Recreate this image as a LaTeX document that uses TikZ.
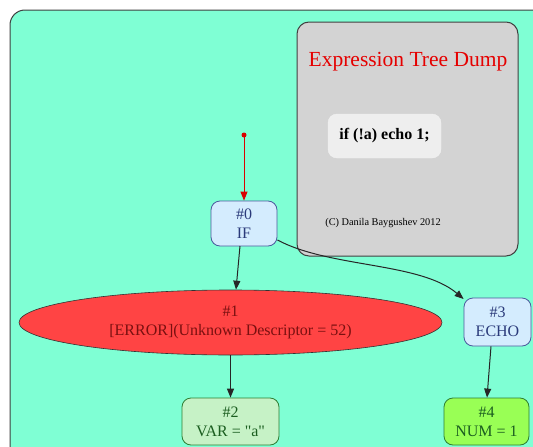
\documentclass[tikz,border=0pt]{standalone}
\usepackage{fontspec}
\setmainfont{Liberation Serif}
\newfontfamily\rawserif{Liberation Serif}[Ligatures=TeXOff]
\usetikzlibrary{shapes.geometric,arrows.meta}
\definecolor{clusterfill}{HTML}{7FFFD4}
\definecolor{boxgray}{HTML}{D3D3D3}
\definecolor{codefill}{HTML}{EEEEEE}
\definecolor{bluefill}{HTML}{D4ECFE}
\definecolor{bluedraw}{HTML}{4A5A9C}
\definecolor{bluetext}{HTML}{2A3A7A}
\definecolor{errfill}{HTML}{FF4444}
\definecolor{errtext}{HTML}{7A1010}
\definecolor{lgfill}{HTML}{C6F2C6}
\definecolor{gfill}{HTML}{99FF55}
\definecolor{gdraw}{HTML}{2E7D32}
\definecolor{gtext}{HTML}{1B5E20}
\tikzset{
  treenode/.style={rectangle, rounded corners=9pt, draw, line width=0.8pt, align=center, font=\fontsize{16}{19}\selectfont, inner sep=0pt},
  bluenode/.style={treenode, fill=bluefill, draw=bluedraw, text=bluetext},
  lgnode/.style={treenode, fill=lgfill, draw=gdraw, text=gtext},
  gnode/.style={treenode, fill=gfill, draw=gdraw, text=gtext},
  errnode/.style={ellipse, fill=errfill, draw=black!80, line width=0.6pt, text=errtext, align=center, font=\fontsize{16}{19}\selectfont, inner sep=0pt},
  edge/.style={-{Triangle[length=9pt,width=7pt]}, line width=1pt, black!85},
}
\begin{document}
\begin{tikzpicture}[x=1pt,y=-1pt]
\useasboundingbox (0,0) rectangle (533,447);
\fill[white] (0,0) rectangle (533,447);
% cluster
\draw[fill=clusterfill, draw=black!75, line width=1pt, rounded corners=15pt] (10,10) rectangle (548,462);
% gray box
\draw[fill=boxgray, draw=black!75, line width=1pt, rounded corners=12pt] (297,22) rectangle (518,256);
\node[text=red!90!black, font=\fontsize{21.5}{24}\selectfont] (title) at (408,62) {Expression Tree Dump};
\node[draw=white!90!gray, fill=codefill, rounded corners=9pt, minimum width=113pt, minimum height=44pt, inner sep=0pt, font=\fontsize{16}{18}\selectfont\bfseries] (code) at (384.5,136) {if (!a) echo 1;};
\node[font=\fontsize{10.3}{12}\selectfont] (copy) at (383,223) {(C) Danila Baygushev 2012};
% nodes
\node[bluenode, minimum width=66pt, minimum height=45pt] (n0) at (244,223.5) {\#0\\IF};
\node[errnode, minimum width=423pt, minimum height=65pt] (n1) at (230.5,322.5) {\#1\\{}[ERROR](Unknown Descriptor = 52)};
\node[lgnode, minimum width=97pt, minimum height=47pt] (n2) at (230.5,421.5) {\#2\\VAR = {\rawserif"a"}};
\node[bluenode, minimum width=67pt, minimum height=48pt] (n3) at (497.5,322) {\#3\\ECHO};
\node[gnode, minimum width=85pt, minimum height=47pt] (n4) at (486.5,421.5) {\#4\\NUM = 1};
\coordinate (start) at (244,135);
% edges
\fill[red!85!black] (start) circle (2.5pt);
\draw[-{Triangle[length=9pt,width=7pt]}, line width=1pt, red!85!black] (start) -- (n0.north);
\draw[edge] (240,246) -- (n1.north -| 236,0);
\draw[edge] (n0.east |- 0,240) .. controls (330,268) and (420,262) .. (n3.north west |- 0,299) ;
\draw[edge] (n1.south) -- (n2.north);
\draw[edge] (n3.south -| 491,0) -- (n4.north -| 487,0);
\end{tikzpicture}
\end{document}
